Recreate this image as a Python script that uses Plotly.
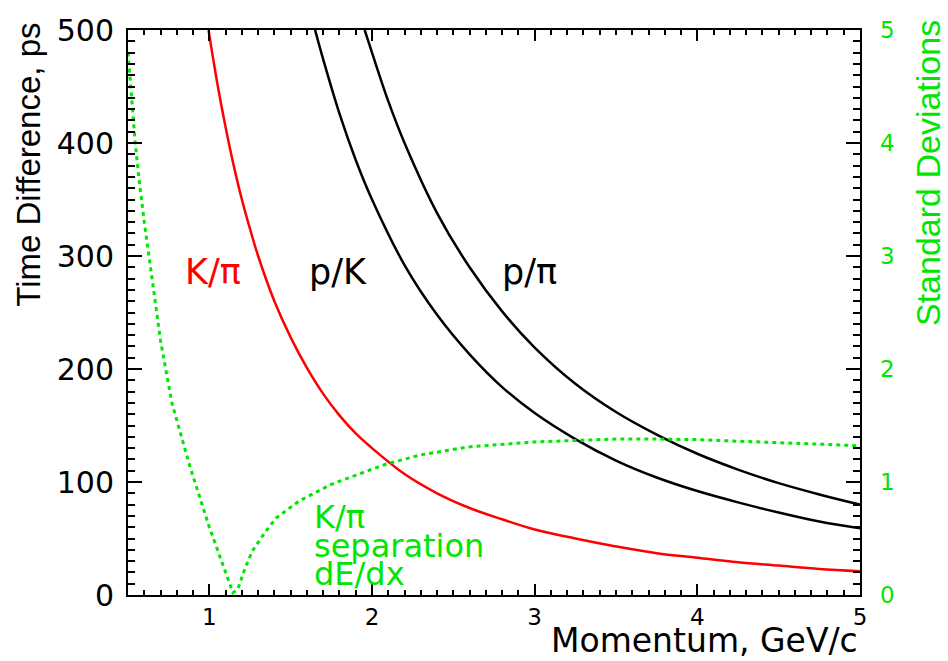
import plotly.graph_objects as go

# ---- data ----
p_kpi = [0.995, 1.05, 1.1, 1.15, 1.2, 1.25, 1.3, 1.4, 1.5, 1.6, 1.7, 1.8, 1.9, 2.0,
         2.2, 2.4, 2.6, 2.8, 3.0, 3.25, 3.5, 3.75, 4.0, 4.25, 4.5, 4.75, 5.0]
dt_kpi = [500, 452, 414, 380, 350, 324, 300, 260, 228, 201, 178, 159, 143, 130,
          107, 90, 77, 67, 58, 50, 43, 37, 33, 29, 26, 23, 21]

p_pk = [1.65, 1.7, 1.8, 1.9, 2.0, 2.2, 2.4, 2.6, 2.8, 3.0, 3.25, 3.5, 3.75, 4.0,
        4.25, 4.5, 4.75, 5.0]
dt_pk = [500, 474, 426, 385, 350, 292, 248, 213, 184, 161, 138, 119, 104, 92,
         82, 73, 65, 59]

p_ppi = [1.955, 2.0, 2.1, 2.2, 2.4, 2.6, 2.8, 3.0, 3.25, 3.5, 3.75, 4.0, 4.25,
         4.5, 4.75, 5.0]
dt_ppi = [500, 480, 437, 400, 338, 290, 251, 219, 187, 162, 142, 125, 111,
          99, 89, 80]

p_sep = [0.5, 0.515, 0.53, 0.545, 0.57, 0.6, 0.65, 0.7, 0.77, 0.82, 0.88, 0.94,
         1.0, 1.05, 1.1, 1.145, 1.175, 1.22, 1.265, 1.34, 1.41, 1.55, 1.75, 2.09,
         2.3, 2.59, 3.0, 3.25, 3.5, 3.75, 4.0, 4.27, 4.5, 4.75, 5.0]
sigma_sep = [4.8, 4.5, 4.28, 3.99, 3.65, 3.3, 2.78, 2.25, 1.70, 1.45, 1.14, 0.87,
             0.6, 0.4, 0.2, 0.02, 0.05, 0.24, 0.39, 0.55, 0.68, 0.83, 0.98, 1.16,
             1.24, 1.31, 1.355, 1.37, 1.38, 1.38, 1.375, 1.36, 1.35, 1.335, 1.32]

x_ticks = [1, 2, 3, 4, 5]
y_ticks = [0, 100, 200, 300, 400, 500]
y2_ticks = [0, 1, 2, 3, 4, 5]

RED = "#ff0000"
GREEN = "#00e600"
FONT = "DejaVu Sans, Liberation Sans, Arial, sans-serif"
NARROW = "Liberation Sans Narrow, Liberation Sans, Arial, sans-serif"

fig = go.Figure()
fig.add_trace(go.Scatter(x=p_kpi, y=dt_kpi, mode="lines", line=dict(color=RED, width=2.5, shape="spline"), showlegend=False))
fig.add_trace(go.Scatter(x=p_pk, y=dt_pk, mode="lines", line=dict(color="black", width=2.5, shape="spline"), showlegend=False))
fig.add_trace(go.Scatter(x=p_ppi, y=dt_ppi, mode="lines", line=dict(color="black", width=2.5, shape="spline"), showlegend=False))
fig.add_trace(go.Scatter(x=p_sep, y=sigma_sep, yaxis="y2", mode="lines",
                         line=dict(color=GREEN, width=3, dash="4px,4px"), showlegend=False))

fig.update_layout(
    width=948, height=661, autosize=False,
    margin=dict(l=128, r=88, t=21, b=66),
    plot_bgcolor="white", paper_bgcolor="white",
    xaxis=dict(range=[0.5, 5], tickvals=x_ticks, ticks="inside", ticklen=11, tickwidth=2,
               tickcolor="black", showline=True, linewidth=2, linecolor="black", mirror="ticks",
               showgrid=False, zeroline=False,
               minor=dict(dtick=0.1, ticks="inside", ticklen=5, tickwidth=1.5, tickcolor="black", showgrid=False),
               tickfont=dict(family=FONT, size=23, color="black"), ticklabelstandoff=0),
    yaxis=dict(range=[0, 500], tickvals=y_ticks, ticks="inside", ticklen=14, tickwidth=2,
               tickcolor="black", showline=True, linewidth=2, linecolor="black", mirror="ticks",
               showgrid=False, zeroline=False,
               minor=dict(dtick=10, ticks="inside", ticklen=7, tickwidth=1.5, tickcolor="black", showgrid=False),
               tickfont=dict(family=FONT, size=30, color="black"), ticklabelstandoff=6),
    yaxis2=dict(range=[0, 5], tickvals=y2_ticks, overlaying="y", side="right", ticks="",
                showline=False, showgrid=False, zeroline=False,
                tickfont=dict(family=FONT, size=23, color=GREEN), ticklabelstandoff=19),
)

ann = [
    dict(text="Momentum, GeV/c", xref="paper", yref="paper", x=1.0, y=-0.08, xanchor="right", yanchor="middle",
         font=dict(family=FONT, size=33, color="black")),
    dict(text="Time Difference, ps", xref="paper", yref="paper", x=-0.137, y=0.761, textangle=-90,
         xanchor="center", yanchor="middle", font=dict(family=NARROW, size=33, color="black")),
    dict(text="Standard Deviations", xref="paper", yref="paper", x=1.093, y=0.747, textangle=-90,
         xanchor="center", yanchor="middle", font=dict(family=NARROW, size=34, color=GREEN)),
    dict(text="K/π", x=1.02, y=286, font=dict(family=FONT, size=35, color=RED)),
    dict(text="p/K", x=1.79, y=286, font=dict(family=FONT, size=35, color="black")),
    dict(text="p/π", x=2.97, y=286, font=dict(family=FONT, size=35, color="black")),
    dict(text="K/π", x=1.633, y=69, xanchor="left", font=dict(family=FONT, size=32, color=GREEN)),
    dict(text="separation", x=1.633, y=43, xanchor="left", font=dict(family=FONT, size=32, color=GREEN)),
    dict(text="dE/dx", x=1.633, y=19, xanchor="left", font=dict(family=FONT, size=32, color=GREEN)),
]
for a in ann:
    a.setdefault("xref", "x")
    a.setdefault("yref", "y")
    a.setdefault("xanchor", "center")
    a.setdefault("yanchor", "middle")
    a["showarrow"] = False
fig.update_layout(annotations=ann)

fig.write_html("out.html")
